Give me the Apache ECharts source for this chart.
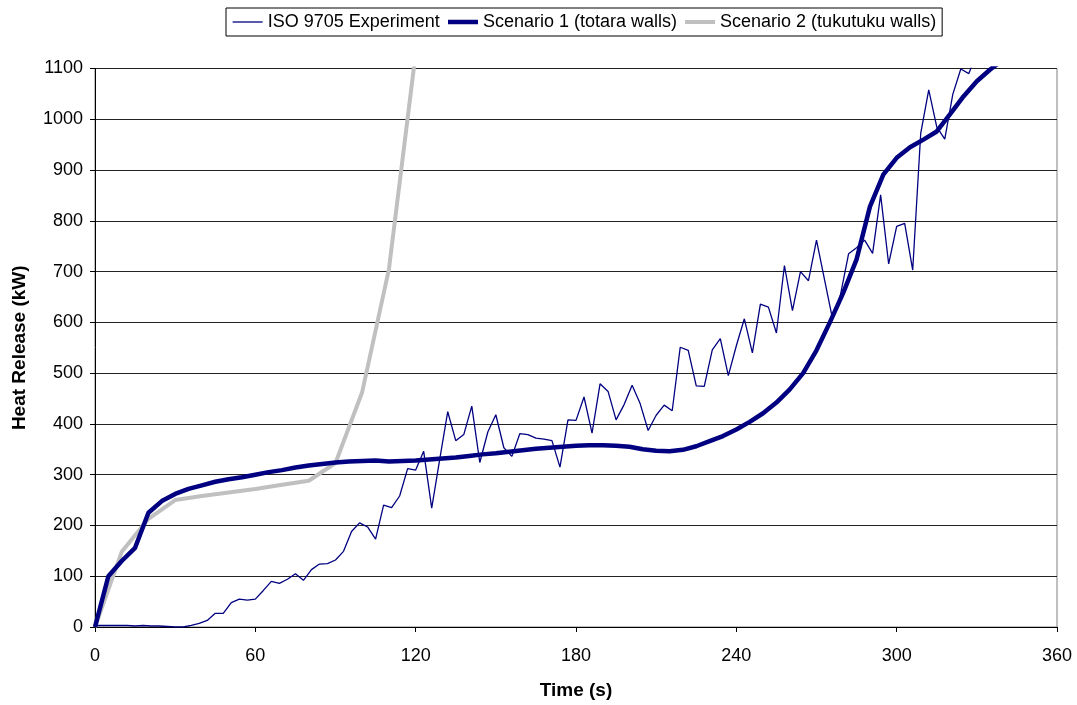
<!DOCTYPE html>
<html>
<head>
<meta charset="utf-8">
<title>Heat Release</title>
<script src="https://cdn.jsdelivr.net/npm/echarts@6/dist/echarts.min.js"></script>
<style>
  html, body { margin: 0; padding: 0; background: #fff; }
  #chart { width: 1077px; height: 705px; }
</style>
</head>
<body>
<div id="chart"></div>
<script>
// Measured heat release, sampled every 3 s
const expStep = 3;
const expValues = [
  3, 3, 3, 3, 3, 2, 3, 2, 2, 1,        // 0 - 27 s
  0, 0, 3, 7, 13, 27, 27, 48, 55, 53,   // 30 - 57 s
  55, 72, 90, 86, 94, 105, 92, 113, 124, 125, // 60 - 87 s
  132, 149, 188, 205, 197, 173, 240, 235, 258, 312, // 90 - 117 s
  309, 346, 234, 330, 424, 367, 379, 435, 324, 384, // 120 - 147 s
  418, 353, 336, 381, 379, 372, 370, 367, 315, 408, // 150 - 177 s
  407, 453, 382, 479, 464, 408, 438, 476, 440, 387, // 180 - 207 s
  417, 437, 426, 551, 545, 475, 474, 546, 568, 495, // 210 - 237 s
  554, 607, 540, 636, 630, 579, 712, 623, 700, 682, // 240 - 267 s
  762, 684, 607, 655, 735, 747, 762, 736, 851, 715, // 270 - 297 s
  789, 795, 703, 972, 1058, 985, 961, 1049, 1099, 1090, // 300 - 327 s
  1130                                   // 330 s
];

// Scenario 1 (totara walls), every 5 s
const s1Step = 5;
const s1Values = [
  0, 100, 130, 156, 225, 248, 262, 272, 279, 286,   // 0 - 45 s
  291, 295, 300, 305, 309, 314, 318, 321, 324, 326, // 50 - 95 s
  327, 328, 326, 327, 328, 330, 332, 334, 337, 340, // 100 - 145 s
  342, 345, 348, 351, 353, 355, 357, 358, 358, 357, // 150 - 195 s
  355, 350, 347, 346, 349, 356, 366, 376, 389, 404, // 200 - 245 s
  421, 442, 468, 500, 545, 600, 658, 724, 828, 891, // 250 - 295 s
  924, 945, 960, 976, 1010, 1045, 1075, 1098, 1118  // 300 - 340 s
];

// Scenario 2 (tukutuku walls), every 10 s
const s2Step = 10;
const s2Values = [0, 148, 213, 250, 258, 265, 272, 280, 288, 323, 463, 705, 1130];

const seriesNames = ['ISO 9705 Experiment', 'Scenario 1 (totara walls)', 'Scenario 2 (tukutuku walls)'];
const xTicks = [0, 60, 120, 180, 240, 300, 360];
const yMax = 1100;

// line look per series: colour, width
const lineLooks = [
  { color: '#000080', width: 1.3 },
  { color: '#000080', width: 4.5 },
  { color: '#c0c0c0', width: 4 }
];

function toPairs(values, step) {
  return values.map((v, i) => [i * step, v]);
}

const font = 'Liberation Sans, Arial, sans-serif';
const chart = echarts.init(document.getElementById('chart'), null, { renderer: 'canvas' });

chart.setOption({
  animation: false,
  backgroundColor: '#fff',
  legend: {
    data: seriesNames.map((name, i) => ({
      name,
      lineStyle: { color: lineLooks[i].color, width: lineLooks[i].width }
    })),
    top: 8,
    left: 226,
    padding: [5, 6, 5, 6],
    itemGap: 6,
    itemWidth: 30,
    itemHeight: 14,
    borderColor: '#000',
    borderWidth: 1,
    borderRadius: 0,
    itemStyle: { opacity: 0 },
    textStyle: { fontFamily: font, fontSize: 18, color: '#000' }
  },
  grid: { left: 95, right: 20, top: 68.5, bottom: 77.5, show: true, borderColor: '#808080', borderWidth: 1 },
  xAxis: {
    type: 'value',
    min: xTicks[0],
    max: xTicks[xTicks.length - 1],
    interval: 60,
    name: 'Time (s)',
    nameLocation: 'middle',
    nameGap: 54,
    nameTextStyle: { fontFamily: font, fontSize: 19, fontWeight: 'bold', color: '#000' },
    axisLine: { show: true, lineStyle: { color: '#000', width: 1 } },
    axisTick: { show: true, length: 5, lineStyle: { color: '#000' } },
    axisLabel: { fontFamily: font, fontSize: 18, color: '#000', margin: 20 },
    splitLine: { show: false }
  },
  yAxis: {
    type: 'value',
    min: 0,
    max: yMax,
    interval: 100,
    name: 'Heat Release (kW)',
    nameLocation: 'middle',
    nameGap: 66,
    nameTextStyle: { fontFamily: font, fontSize: 19, fontWeight: 'bold', color: '#000' },
    axisLine: { show: true, lineStyle: { color: '#000', width: 1 } },
    axisTick: { show: true, length: 5, lineStyle: { color: '#000' } },
    axisLabel: { fontFamily: font, fontSize: 18, color: '#000', margin: 12, formatter: v => String(v) },
    splitLine: { show: true, lineStyle: { color: '#222', width: 1 } }
  },
  series: [
    {
      name: seriesNames[0],
      type: 'line',
      data: toPairs(expValues, expStep),
      symbol: 'none',
      clip: true,
      z: 4,
      lineStyle: lineLooks[0],
      itemStyle: { color: lineLooks[0].color }
    },
    {
      name: seriesNames[1],
      type: 'line',
      data: toPairs(s1Values, s1Step),
      symbol: 'none',
      clip: true,
      z: 3,
      lineStyle: lineLooks[1],
      itemStyle: { color: lineLooks[1].color }
    },
    {
      name: seriesNames[2],
      type: 'line',
      data: toPairs(s2Values, s2Step),
      symbol: 'none',
      clip: true,
      z: 2,
      lineStyle: lineLooks[2],
      itemStyle: { color: lineLooks[2].color }
    }
  ]
});
</script>
</body>
</html>
